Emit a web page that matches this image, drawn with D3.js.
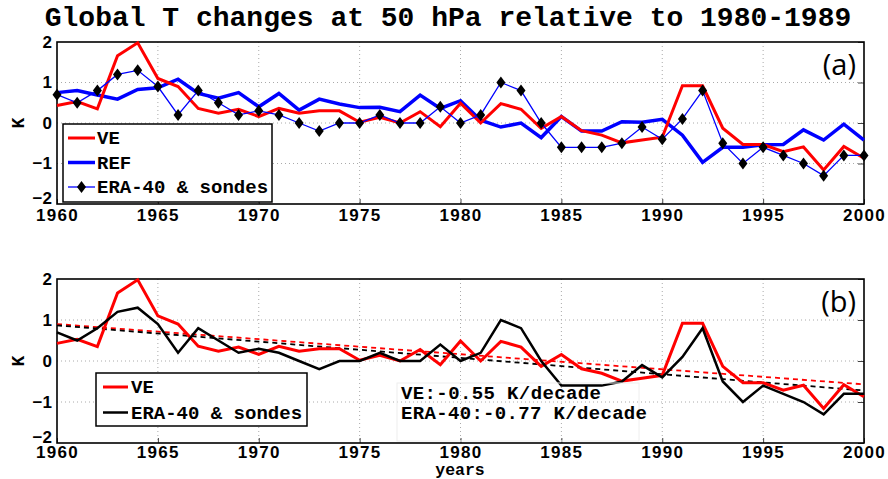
<!DOCTYPE html>
<html>
<head>
<meta charset="utf-8">
<script src="https://cdn.jsdelivr.net/npm/d3@7"></script>
<style>
body { margin: 0; background: #fff; }
.mono { font-family: "Liberation Mono", "Courier New", monospace; font-weight: bold; }
.tick text { font-family: "Liberation Sans", Arial, sans-serif; font-weight: bold; font-size: 17px; }
</style>
</head>
<body>
<div class="diagram"></div>
<script>
var width = 888, height = 479;

// DATA
var years = d3.range(1960, 2001);
var ve = [0.43, 0.53, 0.35, 1.66, 1.98, 1.1, 0.9, 0.36, 0.24, 0.34,
          0.16, 0.36, 0.24, 0.3, 0.3, 0.02, 0.14, 0.0, 0.28, -0.09,
          0.49, 0.0, 0.48, 0.34, -0.13, 0.16, -0.19, -0.3, -0.49, -0.42,
          -0.35, 0.92, 0.92, -0.13, -0.53, -0.53, -0.71, -0.59, -1.16, -0.58, -0.87];
var ref = [0.75, 0.8, 0.69, 0.59, 0.83, 0.87, 1.08, 0.73, 0.61, 0.75,
           0.4, 0.73, 0.32, 0.59, 0.47, 0.38, 0.39, 0.28, 0.69, 0.36,
           0.55, 0.07, -0.1, 0.0, -0.36, 0.16, -0.2, -0.2, 0.03, 0.02,
           0.09, -0.3, -0.97, -0.6, -0.6, -0.54, -0.53, -0.17, -0.42, -0.03, -0.42];
var era = [0.7, 0.5, 0.8, 1.2, 1.3, 0.9, 0.2, 0.8, 0.5, 0.2,
           0.3, 0.2, 0.0, -0.2, 0.0, 0.0, 0.2, 0.0, 0.0, 0.4,
           0.0, 0.2, 1.0, 0.8, 0.0, -0.6, -0.6, -0.6, -0.5, -0.1,
           -0.4, 0.1, 0.8, -0.5, -1.0, -0.6, -0.8, -1.0, -1.3, -0.8, -0.8];
var trendYears = [1960, 2000];
var trendVE = [0.9, -0.57];
var trendERA = [0.87, -0.72];
var xTicks = [1960, 1965, 1970, 1975, 1980, 1985, 1990, 1995, 2000];
var yTicks = [-2, -1, 0, 1, 2];

var svg = d3.select('.diagram')
  .append('svg')
  .attr('width', width)
  .attr('height', height);

svg.append('text')
  .attr('class', 'mono')
  .attr('x', 448)
  .attr('y', 26)
  .attr('text-anchor', 'middle')
  .attr('font-size', 28)
  .text('Global T changes at 50 hPa relative to 1980-1989');

var x = d3.scaleLinear().domain([1960, 2000]).range([57, 864]);

function panel(top, bottom, tag, pad) {
  var y = d3.scaleLinear().domain([-2, 2]).range([bottom, top]);
  var g = svg.append('g');

  // grid
  g.selectAll('.gx').data(xTicks.slice(1, -1)).enter().append('line')
    .attr('x1', function(d) { return x(d); }).attr('x2', function(d) { return x(d); })
    .attr('y1', top).attr('y2', bottom)
    .attr('stroke', '#aaa').attr('stroke-dasharray', '1,3');
  g.selectAll('.gy').data(yTicks.slice(1, -1)).enter().append('line')
    .attr('x1', 57).attr('x2', 864)
    .attr('y1', function(d) { return y(d); }).attr('y2', function(d) { return y(d); })
    .attr('stroke', '#aaa').attr('stroke-dasharray', '1,3');

  g.append('g')
    .attr('class', 'axis')
    .attr('transform', 'translate(0,' + bottom + ')')
    .call(d3.axisBottom(x).tickValues(xTicks).tickFormat(d3.format('d')).tickSizeInner(-5).tickSizeOuter(0).tickPadding(pad))
    .call(function(a) { a.select('.domain').remove(); a.selectAll('.tick line').attr('stroke', '#444'); a.selectAll('text').attr('dy', '0.6em').attr('letter-spacing', 1.3); });
  g.append('g')
    .attr('class', 'axis')
    .attr('transform', 'translate(57,0)')
    .call(d3.axisLeft(y).tickValues(yTicks).tickFormat(function(d) { return d < 0 ? '\u2212' + (-d) : d; }).tickSizeInner(0).tickSizeOuter(0).tickPadding(5))
    .call(function(a) {
      a.select('.domain').remove();
      a.selectAll('.tick').filter(function(d) { return d === -2; }).select('text').attr('dy', '-0.05em');
    });
  g.append('g')
    .attr('transform', 'translate(864,0)')
    .call(d3.axisLeft(y).tickValues(yTicks).tickFormat('').tickSizeInner(6).tickSizeOuter(0))
    .call(function(a) { a.select('.domain').remove(); a.selectAll('line').attr('stroke', '#444'); });

  g.append('rect')
    .attr('x', 57).attr('y', top)
    .attr('width', 864 - 57).attr('height', bottom - top)
    .attr('fill', 'none').attr('stroke', '#000').attr('stroke-width', 1.6);

  g.append('text')
    .attr('class', 'mono')
    .attr('transform', 'translate(24,' + y(0) + ') rotate(-90)')
    .attr('text-anchor', 'middle')
    .attr('font-size', 18)
    .text('K');

  g.append('text')
    .attr('x', 856).attr('y', top + 33)
    .attr('text-anchor', 'end')
    .attr('font-family', 'Open Sans, Noto Sans, sans-serif')
    .attr('font-size', 29)
    .text('(' + tag + ')');

  return { g: g, y: y };
}

function drawLine(g, y, xs, vals, color, w, dash) {
  var line = d3.line()
    .x(function(d, i) { return x(xs[i]); })
    .y(function(d) { return y(d); });
  g.append('path')
    .datum(vals)
    .attr('d', line)
    .attr('fill', 'none')
    .attr('stroke', color)
    .attr('stroke-width', w)
    .attr('stroke-linejoin', 'miter')
    .attr('stroke-dasharray', dash || null);
}

function diamond(g, cx, cy) {
  g.append('path')
    .attr('d', 'M' + cx + ',' + (cy - 6) + 'L' + (cx + 4.5) + ',' + cy + 'L' + cx + ',' + (cy + 6) + 'L' + (cx - 4.5) + ',' + cy + 'Z')
    .attr('fill', '#000');
}

// PANEL A
var pa = panel(42, 204, 'a', 7);
drawLine(pa.g, pa.y, years, ref, '#0000ff', 3.5);
drawLine(pa.g, pa.y, years, ve, '#ff0000', 3);
drawLine(pa.g, pa.y, years, era, '#0000ff', 1.3);
era.forEach(function(d, i) { diamond(pa.g, x(years[i]), pa.y(d)); });

var la = svg.append('g');
la.append('rect').attr('x', 63).attr('y', 124).attr('width', 209).attr('height', 78)
  .attr('fill', '#fff').attr('stroke', '#000').attr('stroke-width', 1.5);
var legA = [
  { name: 'VE', color: '#ff0000', w: 3, mark: false },
  { name: 'REF', color: '#0000ff', w: 3.5, mark: false },
  { name: 'ERA-40 & sondes', color: '#0000ff', w: 1.3, mark: true }
];
legA.forEach(function(d, i) {
  var ly = 138 + i * 24.5;
  la.append('line').attr('x1', 68).attr('x2', 95).attr('y1', ly).attr('y2', ly)
    .attr('stroke', d.color).attr('stroke-width', d.w);
  if (d.mark) diamond(la, 81.5, ly);
  la.append('text').attr('class', 'mono').attr('x', 97).attr('y', ly + 6)
    .attr('font-size', 19).text(d.name);
});

// PANEL B
var pb = panel(279, 443, 'b', 5);
drawLine(pb.g, pb.y, trendYears, trendVE, '#ff0000', 1.8, '5,4');
drawLine(pb.g, pb.y, trendYears, trendERA, '#000', 1.8, '5,4');
drawLine(pb.g, pb.y, years, ve, '#ff0000', 3);
drawLine(pb.g, pb.y, years, era, '#000', 2.5);

var lb = svg.append('g');
lb.append('rect').attr('x', 96).attr('y', 373).attr('width', 211).attr('height', 53)
  .attr('fill', '#fff').attr('stroke', '#000').attr('stroke-width', 1.5);
[{ name: 'VE', color: '#ff0000', w: 3 }, { name: 'ERA-40 & sondes', color: '#000', w: 2.5 }]
  .forEach(function(d, i) {
    var ly = 387 + i * 25.5;
    lb.append('line').attr('x1', 103).attr('x2', 128).attr('y1', ly).attr('y2', ly)
      .attr('stroke', d.color).attr('stroke-width', d.w);
    lb.append('text').attr('class', 'mono').attr('x', 131).attr('y', ly + 6)
      .attr('font-size', 19).text(d.name);
  });

var ann = svg.append('g');
ann.append('rect').attr('x', 397).attr('y', 383).attr('width', 242).attr('height', 58)
  .attr('fill', 'none').attr('stroke', '#eee');
ann.append('text').attr('class', 'mono').attr('x', 401).attr('y', 399)
  .attr('font-size', 19).attr('textLength', 200).text('VE:-0.55 K/decade');
ann.append('text').attr('class', 'mono').attr('x', 401).attr('y', 419)
  .attr('font-size', 19).attr('textLength', 246).text('ERA-40:-0.77 K/decade');

svg.append('text')
  .attr('class', 'mono')
  .attr('x', 460).attr('y', 475)
  .attr('text-anchor', 'middle')
  .attr('font-size', 16.5)
  .text('years');
</script>
</body>
</html>
